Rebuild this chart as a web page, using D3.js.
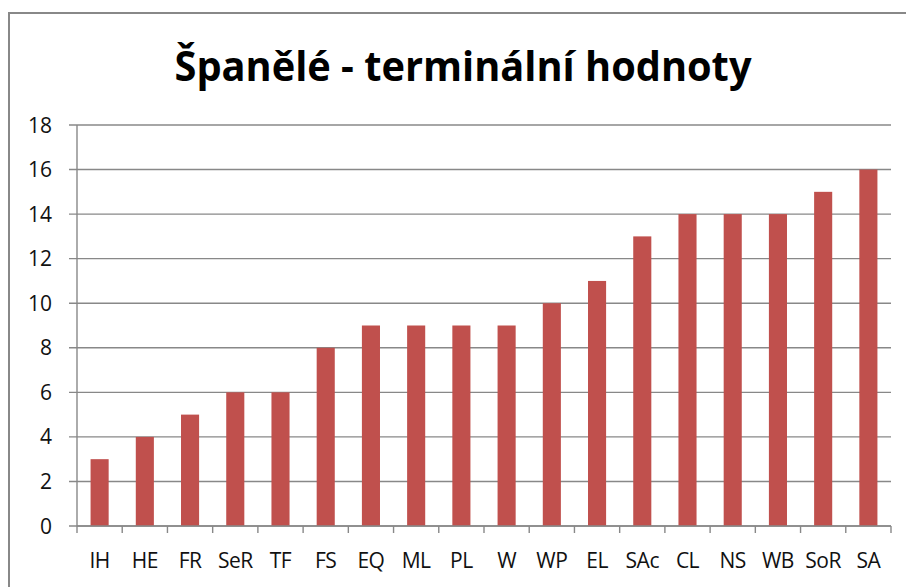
<!DOCTYPE html>
<html>
<head>
<meta charset="utf-8">
<script src="https://cdn.jsdelivr.net/npm/d3@7"></script>
<style>
  body { margin: 0; background: #fff; }
  svg { display: block; }
</style>
</head>
<body>
<svg id="chart" width="906" height="587"></svg>
<script>
const title = "Španělé - terminální hodnoty"
const categories = ["IH", "HE", "FR", "SeR", "TF", "FS", "EQ", "ML", "PL", "W", "WP", "EL", "SAc", "CL", "NS", "WB", "SoR", "SA"]
const values = [3, 4, 5, 6, 6, 8, 9, 9, 9, 9, 10, 11, 13, 14, 14, 14, 15, 16]
const yTicks = [0, 2, 4, 6, 8, 10, 12, 14, 16, 18]

const svg = d3.select("#chart")

// outer frame (runs off the right and bottom edges)
svg.append("rect")
  .attr("x", 9).attr("y", 13)
  .attr("width", 910).attr("height", 590)
  .attr("fill", "white")
  .attr("stroke", "#888")
  .attr("stroke-width", 2)

const plotL = 77, plotR = 891, plotT = 125, plotB = 526

const x = d3.scaleBand().domain(categories).range([plotL, plotR]).paddingInner(0.6).paddingOuter(0.3)
const y = d3.scaleLinear().domain([0, 18]).range([plotB, plotT])

// gridlines
svg.append("g")
  .selectAll("line")
  .data(yTicks)
  .enter()
  .append("line")
  .attr("x1", plotL - 8).attr("x2", plotR)
  .attr("y1", d => y(d)).attr("y2", d => y(d))
  .attr("stroke", "#888")
  .attr("stroke-width", 1.4)

// y labels
svg.append("g")
  .selectAll("text")
  .data(yTicks)
  .enter()
  .append("text")
  .attr("x", 52)
  .attr("y", d => y(d))
  .attr("dy", "0.36em")
  .attr("text-anchor", "end")
  .style("font-family", "'Open Sans', sans-serif")
  .style("font-size", "21px")
  .attr("fill", "#111")
  .text(d => d)

// y axis line
svg.append("line")
  .attr("x1", plotL).attr("x2", plotL)
  .attr("y1", plotT).attr("y2", plotB)
  .attr("stroke", "#888")
  .attr("stroke-width", 1.4)

// bars
svg.append("g")
  .selectAll("rect")
  .data(values)
  .enter()
  .append("rect")
  .attr("x", (d, i) => x(categories[i]))
  .attr("width", x.bandwidth())
  .attr("y", d => y(d))
  .attr("height", d => plotB - y(d))
  .attr("fill", "#C0504D")

// x axis + ticks between categories
const tickPos = d3.range(categories.length + 1).map(i => plotL + i * (plotR - plotL) / categories.length)
svg.append("line")
  .attr("x1", plotL).attr("x2", plotR)
  .attr("y1", plotB).attr("y2", plotB)
  .attr("stroke", "#888")
  .attr("stroke-width", 1.4)
svg.append("g")
  .selectAll("line")
  .data(tickPos)
  .enter()
  .append("line")
  .attr("x1", d => d).attr("x2", d => d)
  .attr("y1", plotB).attr("y2", plotB + 7)
  .attr("stroke", "#888")
  .attr("stroke-width", 1.4)

// x labels
svg.append("g")
  .selectAll("text")
  .data(categories)
  .enter()
  .append("text")
  .attr("x", d => x(d) + x.bandwidth() / 2)
  .attr("y", 568)
  .attr("text-anchor", "middle")
  .style("font-family", "'Open Sans', sans-serif")
  .style("font-size", "21px")
  .style("letter-spacing", "-0.5px")
  .attr("fill", "#111")
  .text(d => d)

// title
svg.append("text")
  .attr("x", 463)
  .attr("y", 81)
  .attr("text-anchor", "middle")
  .style("font-family", "'Open Sans', sans-serif")
  .style("font-weight", "bold")
  .style("font-size", "41px")
  .attr("textLength", 577)
  .attr("lengthAdjust", "spacingAndGlyphs")
  .text(title)
</script>
</body>
</html>
